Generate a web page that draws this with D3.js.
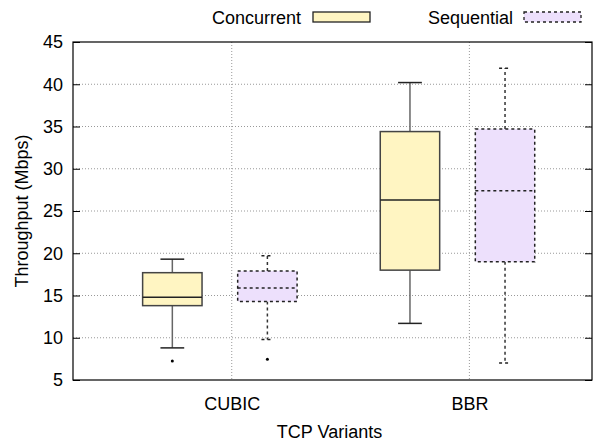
<!DOCTYPE html>
<html><head><meta charset="utf-8">
<script src="https://cdn.jsdelivr.net/npm/d3@7"></script>
<style>body{margin:0;background:#fff}text{font-family:"Liberation Sans",Arial,sans-serif}</style>
</head><body>
<svg id="c" width="594" height="444"></svg>
<script>
const categories = ["CUBIC", "BBR"];
const seriesNames = ["Concurrent", "Sequential"];
// [lowWhisker, q1, median, q3, highWhisker]
const concurrentStats = [[8.8, 13.8, 14.8, 17.7, 19.3], [11.7, 18.0, 26.3, 34.4, 40.2]];
const sequentialStats = [[9.8, 14.3, 15.9, 17.9, 19.7], [7.0, 19.0, 27.4, 34.7, 41.9]];
const concurrentOutliers = [[7.25], []];
const sequentialOutliers = [[7.45], []];
const yTicks = [5, 10, 15, 20, 25, 30, 35, 40, 45];

const FS = 18;
const svg = d3.select("#c");
const L = 73, R = 592, T = 42, B = 380;
const x = d3.scaleLinear().domain([0.332, 2.516]).range([L, R]);
const y = d3.scaleLinear().domain([5, 45]).range([B, T]);
const catPos = d3.scaleOrdinal().domain(categories).range([1, 2]);

// grid
const g = svg.append("g");
g.selectAll(".hg").data(yTicks.slice(1, -1)).join("line")
  .attr("x1", L).attr("x2", R).attr("y1", d => y(d)).attr("y2", d => y(d))
  .attr("stroke", "#999").attr("stroke-width", 1).attr("stroke-dasharray", "1,2");
g.selectAll(".vg").data(categories).join("line")
  .attr("x1", d => x(catPos(d))).attr("x2", d => x(catPos(d))).attr("y1", T).attr("y2", B)
  .attr("stroke", "#999").attr("stroke-width", 1).attr("stroke-dasharray", "1,2");

// axes
const yAxis = d3.axisLeft(y).tickValues(yTicks).tickSizeInner(-7).tickSizeOuter(0).tickPadding(10);
const ya = svg.append("g").attr("transform", `translate(${L},0)`).call(yAxis);
ya.select(".domain").remove();
ya.selectAll("text").attr("font-size", FS).attr("fill", "#000").style("font-family", "Liberation Sans, Arial, sans-serif");
ya.selectAll("line").attr("stroke", "#000");
const yAxisR = d3.axisRight(y).tickValues(yTicks).tickSizeInner(-7).tickSizeOuter(0).tickFormat("");
const yr = svg.append("g").attr("transform", `translate(${R},0)`).call(yAxisR);
yr.select(".domain").remove();
yr.selectAll("line").attr("stroke", "#000");

const xAxis = d3.axisBottom(x).tickValues([1, 2]).tickFormat((d, i) => categories[i]).tickSize(0).tickPadding(17);
const xa = svg.append("g").attr("transform", `translate(0,${B})`).call(xAxis);
xa.select(".domain").remove();
xa.selectAll("text").attr("font-size", FS).attr("fill", "#000").style("font-family", "Liberation Sans, Arial, sans-serif");

// frame
svg.append("rect").attr("x", L).attr("y", T).attr("width", R - L).attr("height", B - T)
  .attr("fill", "none").attr("stroke", "#000").attr("stroke-width", 1.2);

// titles
svg.append("text").attr("x", (L + R) / 2 - 3).attr("y", 438).attr("text-anchor", "middle")
  .attr("font-size", FS).text("TCP Variants");
svg.append("text").attr("transform", `translate(28,${(T + B) / 2}) rotate(-90)`).attr("text-anchor", "middle")
  .attr("font-size", FS).text("Throughput (Mbps)");

// boxes
const boxW = 0.25;
const series = [
  {name: seriesNames[0], stats: concurrentStats, outliers: concurrentOutliers, off: -0.25, fill: "#fff5c2", dash: null, cap: 0.05},
  {name: seriesNames[1], stats: sequentialStats, outliers: sequentialOutliers, off: 0.15, fill: "#ede0fc", dash: "3,3", cap: 0.025}
];
series.forEach(s => {
  const grp = svg.append("g");
  categories.forEach((c, i) => {
    const [lo, q1, med, q3, hi] = s.stats[i];
    const cx = catPos(c) + s.off;
    const xl = x(cx - boxW / 2), xr = x(cx + boxW / 2), xc = x(cx);
    [[q3, hi], [q1, lo]].forEach(([a, b]) => {
      grp.append("line").attr("x1", xc).attr("x2", xc).attr("y1", y(a)).attr("y2", y(b))
        .attr("stroke", s.dash ? "#333" : "#666").attr("stroke-width", 1.5).attr("stroke-dasharray", s.dash);
      grp.append("line").attr("x1", x(cx - s.cap)).attr("x2", x(cx + s.cap)).attr("y1", y(b)).attr("y2", y(b))
        .attr("stroke", "#222").attr("stroke-width", 1.5).attr("stroke-dasharray", s.dash);
    });
    grp.append("rect").attr("x", xl).attr("y", y(q3)).attr("width", xr - xl).attr("height", y(q1) - y(q3))
      .attr("fill", s.fill).attr("stroke", s.dash ? "#222" : "#444").attr("stroke-width", 1.5).attr("stroke-dasharray", s.dash);
    grp.append("line").attr("x1", xl).attr("x2", xr).attr("y1", y(med)).attr("y2", y(med))
      .attr("stroke", "#222").attr("stroke-width", 1.5).attr("stroke-dasharray", s.dash);
    s.outliers[i].forEach(o => {
      grp.append("circle").attr("cx", xc).attr("cy", y(o)).attr("r", 1.5).attr("fill", "#000");
    });
  });
});

// legend
const leg = [
  {s: series[0], tx: 301, bx: 313},
  {s: series[1], tx: 513, bx: 524}
];
leg.forEach(l => {
  svg.append("text").attr("x", l.tx).attr("y", 24).attr("text-anchor", "end").attr("font-size", FS).text(l.s.name);
  svg.append("rect").attr("x", l.bx).attr("y", 12).attr("width", 57).attr("height", 10)
    .attr("fill", l.s.fill).attr("stroke", "#222").attr("stroke-width", 1.3).attr("stroke-dasharray", l.s.dash);
});
</script>
</body></html>
